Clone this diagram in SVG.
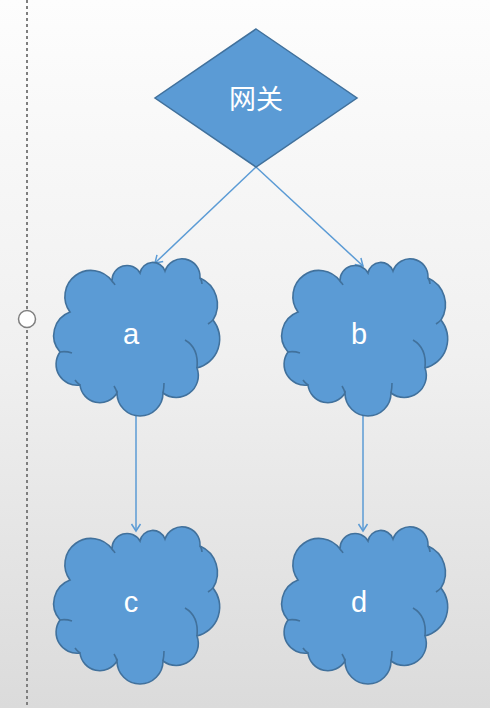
<svg xmlns="http://www.w3.org/2000/svg" xmlns:xlink="http://www.w3.org/1999/xlink" width="490" height="708" viewBox="0 0 490 708">
  <defs>
    <linearGradient id="bg" x1="0" y1="0" x2="0" y2="1">
      <stop offset="0" stop-color="#fdfdfd"/>
      <stop offset="0.5" stop-color="#f0f0f0"/>
      <stop offset="1" stop-color="#dbdbdb"/>
    </linearGradient>
    <marker id="arr" markerWidth="12" markerHeight="12" refX="9" refY="6" orient="auto" markerUnits="userSpaceOnUse">
      <path d="M2,1.5 L9,6 L2,10.5" fill="none" stroke="#5b9bd5" stroke-width="1.5"/>
    </marker>
    <g id="cloud">
      <path class="cloud" d="M-66,-24 A26,26 0 0 1 -24,-55 A15,15 0 0 1 4,-63 A13,13 0 0 1 29,-65 A18,18 0 0 1 64,-58 A29,29 0 0 1 77,-16 A30,30 0 0 1 61,32 A22,22 0 0 1 27,57 A23,23 0 0 1 -19,57 A20,20 0 0 1 -56,49 A21,21 0 0 1 -76,16 A25,25 0 0 1 -66,-24 Z"/>
      <path class="crease" d="M49,4 Q63,12 61,32 M27,57 Q28,52 28,47 M-19,57 Q-20,53 -22,50 M-56,49 Q-59,47 -61,44 M-76,16 Q-70,15 -64,17 M-24,-55 Q-22,-53 -21,-51 M64,-58 Q66,-55 66,-52 M77,-16 Q75,-14 72,-12"/>
    </g>
  </defs>
  <style>
    .cloud { fill: #5b9bd5; stroke: #41719c; stroke-width: 1.6; }
    .crease { fill: none; stroke: #41719c; stroke-width: 1.6; }
    .conn { fill: none; stroke: #5b9bd5; stroke-width: 1.5; marker-end: url(#arr); }
    .lbl { font-family: "Liberation Sans", Arial, sans-serif; font-size: 29px; fill: #ffffff; text-anchor: middle; }
  </style>
  <rect x="0" y="0" width="490" height="708" fill="url(#bg)"/>
  <g id="guide">
    <line x1="27" y1="0" x2="27" y2="708" stroke="#7f7f7f" stroke-width="2" stroke-dasharray="3,3"/>
    <circle cx="27" cy="319" r="8.5" fill="#ffffff" stroke="#7f7f7f" stroke-width="1.5"/>
  </g>
  <g id="connectors">
    <line class="conn" x1="256" y1="167" x2="155" y2="263"/>
    <line class="conn" x1="256" y1="167" x2="363" y2="266"/>
    <line class="conn" x1="136" y1="413" x2="136" y2="531"/>
    <line class="conn" x1="363" y1="413" x2="363" y2="531"/>
  </g>
  <g id="gateway">
    <polygon points="256,29 357,98 256,167 155,98" fill="#5b9bd5" stroke="#41719c" stroke-width="1.5"/>
    <text x="256" y="109" font-family="'Liberation Sans', 'Noto Sans CJK SC', sans-serif" font-size="27" fill="#ffffff" text-anchor="middle">网关</text>
  </g>
  <g id="node-a" transform="translate(136,336)">
    <use xlink:href="#cloud"/>
    <text class="lbl" x="-5" y="8">a</text>
  </g>
  <g id="node-b" transform="translate(364,336)">
    <use xlink:href="#cloud"/>
    <text class="lbl" x="-5" y="8">b</text>
  </g>
  <g id="node-c" transform="translate(136,604)">
    <use xlink:href="#cloud"/>
    <text class="lbl" x="-5" y="8">c</text>
  </g>
  <g id="node-d" transform="translate(364,604)">
    <use xlink:href="#cloud"/>
    <text class="lbl" x="-5" y="8">d</text>
  </g>
</svg>
